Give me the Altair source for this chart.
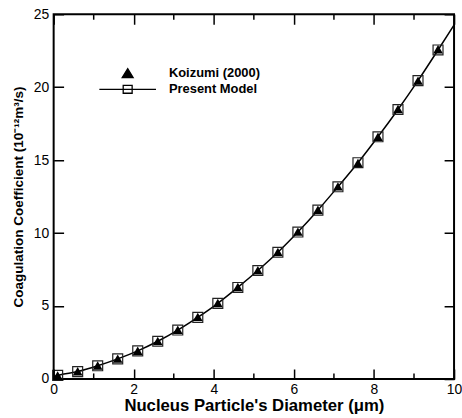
import altair as alt
import pandas as pd

# ---- data ----
diameter = [0.1, 0.6, 1.1, 1.6, 2.1, 2.6, 3.1, 3.6, 4.1, 4.6,
            5.1, 5.6, 6.1, 6.6, 7.1, 7.6, 8.1, 8.6, 9.1, 9.6]
koizumi = [0.24, 0.52, 0.92, 1.39, 1.93, 2.6, 3.37, 4.25, 5.2, 6.3,
           7.45, 8.7, 10.1, 11.6, 13.2, 14.8, 16.6, 18.5, 20.45, 22.6]
model = [0.24, 0.5, 0.9, 1.37, 1.92, 2.58, 3.35, 4.22, 5.18, 6.27,
         7.43, 8.68, 10.07, 11.57, 13.17, 14.82, 16.6, 18.47, 20.45, 22.55]
line_x = [0.0] + diameter + [10.0]
line_y = [0.15] + model + [24.27]

series_names = ["Koizumi (2000)", "Present Model"]
x_labels = [0, 2, 4, 6, 8, 10]
x_minor = [1, 3, 5, 7, 9]
y_labels = [0, 5, 10, 15, 20, 25]

FONT = "Liberation Sans"
W, H = 403, 367
TICK = 10
X0, X1 = x_labels[0], x_labels[-1]
Y0, Y1 = y_labels[0], y_labels[-1]

pts = pd.DataFrame({"d": diameter, "k": koizumi, "m": model})
line_df = pd.DataFrame({"d": line_x, "m": line_y})
legend_df = pd.DataFrame({
    "d": diameter + diameter,
    "v": koizumi + model,
    "series": [series_names[0]] * len(diameter) + [series_names[1]] * len(diameter),
})

xs = alt.Scale(domain=[X0, X1], nice=False, zero=False)
ys = alt.Scale(domain=[Y0, Y1], nice=False, zero=False)

# main line carries the labelled axes; dashed gridlines give inward ticks at both ends
line = alt.Chart(line_df).mark_line(color="black", strokeWidth=1.5, interpolate="monotone").encode(
    x=alt.X("d:Q", scale=xs, axis=alt.Axis(
        orient="bottom", values=x_labels, ticks=False, domain=False,
        grid=True, gridColor="black", gridWidth=1.5, gridOpacity=1,
        gridDash=[TICK, H - 2 * TICK, TICK], zindex=1,
        labelFlush=False, labelPadding=4, labelFont=FONT, labelFontSize=14, labelColor="black",
        title="Nucleus Particle's Diameter (μm)", titleFont=FONT, titleFontSize=16.8,
        titleFontWeight="bold", titleColor="black", titlePadding=1)),
    y=alt.Y("m:Q", scale=ys, axis=alt.Axis(
        orient="left", values=y_labels, ticks=False, domain=False,
        grid=True, gridColor="black", gridWidth=1.5, gridOpacity=1,
        gridDash=[TICK, W - 2 * TICK, TICK], zindex=1,
        labelFlush=False, labelPadding=5, labelFont=FONT, labelFontSize=14, labelColor="black",
        title="Coagulation Coefficient (10⁻¹²m³/s)", titleFont=FONT, titleFontSize=13.6,
        titleFontWeight="bold", titleColor="black", titlePadding=8)),
)

# shorter minor ticks on the bottom and top edges
def xticks(values, edge, length, inward):
    df = pd.DataFrame({"t": values, "e": [edge] * len(values)})
    return alt.Chart(df).mark_tick(
        orient="vertical", size=length, thickness=1.5, color="black", opacity=1,
        yOffset=inward * length / 2).encode(
        x=alt.X("t:Q", scale=xs),
        y=alt.Y("e:Q", scale=ys),
    )

ticks = [xticks(x_minor, Y0, 5.5, -1), xticks(x_minor, Y1, 5.5, 1)]

squares = alt.Chart(pts).mark_point(shape="square", filled=False, size=100,
                                     stroke="#222", strokeWidth=1.2, opacity=1).encode(
    x=alt.X("d:Q", scale=xs),
    y=alt.Y("m:Q", scale=ys),
)
triangles = alt.Chart(pts).mark_point(shape="triangle-up", filled=True, size=95,
                                       color="black", opacity=1).encode(
    x=alt.X("d:Q", scale=xs),
    y=alt.Y("k:Q", scale=ys),
)

# legend symbols: size 100 -> path unit = 5 px
tri_path = "M0,-0.95L1.1,0.85L-1.1,0.85Z"
sq_path = "M-5.7,0H5.7M-0.9,-0.8H0.9V0.8H-0.9Z"
leg = alt.Legend(orient="none", legendX=68, legendY=53, title=None, padding=0,
                 symbolSize=100, symbolStrokeWidth=1.3,
                 rowPadding=1, labelOffset=35, labelFont=FONT, labelFontSize=13,
                 labelFontWeight="bold", labelColor="black", symbolOpacity=1)
legend_layer = alt.Chart(legend_df).mark_point(size=0, filled=True, strokeWidth=1.3).encode(
    x=alt.X("d:Q", scale=xs),
    y=alt.Y("v:Q", scale=ys),
    shape=alt.Shape("series:N", scale=alt.Scale(domain=series_names, range=[tri_path, sq_path]), legend=leg),
    fill=alt.Fill("series:N", scale=alt.Scale(domain=series_names, range=["black", "transparent"]), legend=leg),
    stroke=alt.Stroke("series:N", scale=alt.Scale(domain=series_names, range=["black", "black"]), legend=leg),
)

chart = alt.layer(line, squares, triangles, legend_layer, *ticks).properties(
    width=W, height=H,
    padding={"left": 11, "top": 6, "right": 0, "bottom": 0},
    background="white",
).configure_view(stroke="black", strokeWidth=2)

chart.save("out.html", embed_options={"renderer": "svg", "actions": False})
